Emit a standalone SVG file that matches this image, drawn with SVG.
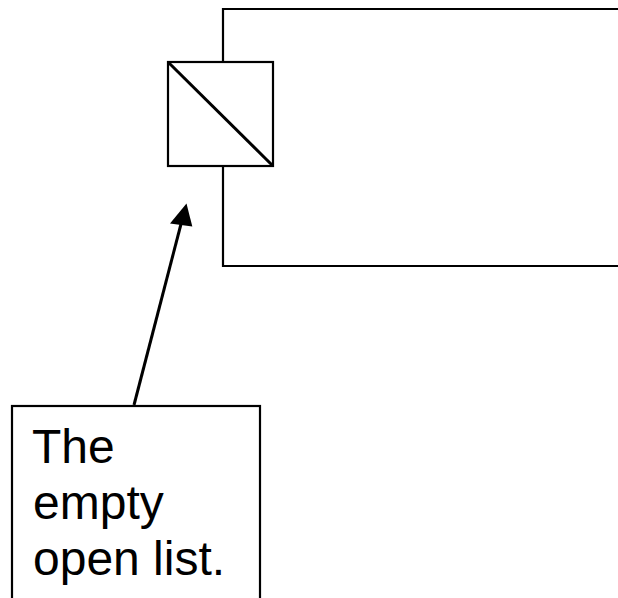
<svg xmlns="http://www.w3.org/2000/svg" width="618" height="598" viewBox="0 0 618 598">
  <style>
    .ln { fill: none; stroke: #000; stroke-width: 2.2; }
    .thick { fill: none; stroke: #000; stroke-width: 3; }
    .box { fill: #fff; stroke: #000; stroke-width: 2.2; }
    .lbl { font-family: "Liberation Sans", Arial, sans-serif; font-size: 48px; fill: #000; }
  </style>

  <!-- list frame drawn off to the right -->
  <g id="list">
    <polyline class="ln" points="618,9 223,9 223,62"/>
    <polyline class="ln" points="223,166 223,266 618,266"/>
  </g>

  <!-- nil cell: square with a diagonal slash -->
  <g id="nil-cell">
    <rect class="box" x="168" y="62" width="105" height="104"/>
    <line class="thick" x1="168" y1="62" x2="273" y2="166"/>
  </g>

  <g id="connectors">
    <line class="thick" x1="134" y1="405" x2="181" y2="224"/>
    <path d="M186.5,203.5 L170,223.5 L192.3,226.5 z" fill="#000"/>
  </g>

  <g id="note">
    <rect class="box" x="12" y="406" width="248" height="200"/>
    <text class="lbl" x="32" y="463">The</text>
    <text class="lbl" x="33" y="519">empty</text>
    <text class="lbl" x="33" y="575">open list.</text>
  </g>
</svg>
